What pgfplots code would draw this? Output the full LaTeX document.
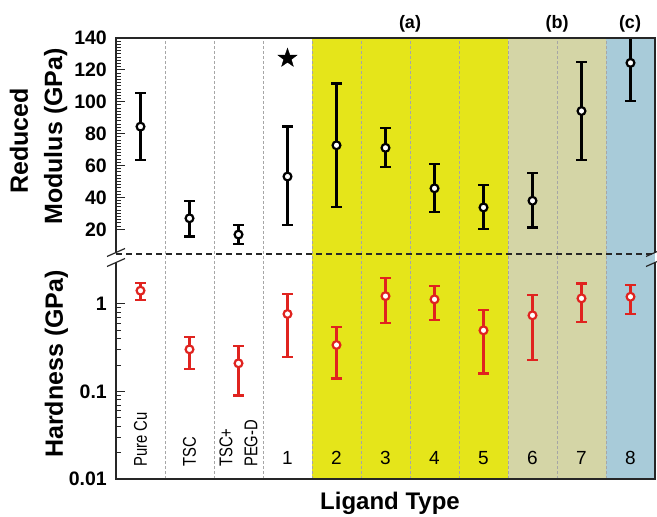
\documentclass[border=0pt]{standalone}
\usepackage{fontspec}
\setmainfont{Liberation Sans}
\newfontfamily\narrowsans[FakeStretch=0.8]{Liberation Sans}
\usepackage{pgfplots}
\usepackage{pgfplotstable}
\pgfplotsset{compat=1.18}

\definecolor{bandA}{HTML}{E5E51A}
\definecolor{bandB}{HTML}{D4D5A6}
\definecolor{bandC}{HTML}{A8CBD9}
\definecolor{hred}{HTML}{E0231F}
\definecolor{framegray}{HTML}{262626}

% filled five-pointed star
\pgfdeclareplotmark{fivestar}{%
  \pgfpathmoveto{\pgfpointpolar{90}{\pgfplotmarksize}}%
  \pgfpathlineto{\pgfpointpolar{126}{0.4\pgfplotmarksize}}%
  \pgfpathlineto{\pgfpointpolar{162}{\pgfplotmarksize}}%
  \pgfpathlineto{\pgfpointpolar{198}{0.4\pgfplotmarksize}}%
  \pgfpathlineto{\pgfpointpolar{234}{\pgfplotmarksize}}%
  \pgfpathlineto{\pgfpointpolar{270}{0.4\pgfplotmarksize}}%
  \pgfpathlineto{\pgfpointpolar{306}{\pgfplotmarksize}}%
  \pgfpathlineto{\pgfpointpolar{342}{0.4\pgfplotmarksize}}%
  \pgfpathlineto{\pgfpointpolar{18}{\pgfplotmarksize}}%
  \pgfpathlineto{\pgfpointpolar{54}{0.4\pgfplotmarksize}}%
  \pgfpathclose
  \pgfusepathqfillstroke
}

% reduced modulus (GPa): value, upper and lower error
\pgfplotstableread{
x y ep em
0 84.4 20.9 20.8
1 26.9 11.0 11.5
2 16.7 6.2 5.8
3 53.1 31.3 30.3
4 72.7 38.8 38.7
5 71.1 12.5 12.1
6 45.7 15.2 14.7
7 33.7 14.2 13.5
8 37.9 17.3 16.7
9 94.2 30.8 30.8
10 124.4 23.6 23.8
}\modtable

% hardness (GPa): value, upper and lower error
\pgfplotstableread{
x y ep em
0 1.42 0.33 0.31
1 0.303 0.120 0.122
2 0.21 0.124 0.120
3 0.769 0.541 0.519
4 0.34 0.201 0.199
5 1.23 0.77 0.618
6 1.13 0.48 0.474
7 0.5 0.347 0.34
8 0.742 0.528 0.511
9 1.16 0.55 0.537
10 1.21 0.45 0.435
}\hardtable

\pgfplotsset{
  panel/.style={
    scale only axis, width=539pt,
    xmin=-0.5, xmax=10.5, xtick=\empty,
    axis lines=left, axis line style={draw=none},
    tick align=inside, ytick pos=left,
    major tick length=9pt, minor tick length=5pt,
    tick style={line width=1pt, framegray},
    yticklabel style={font=\bfseries\fontsize{19.5}{20}\selectfont, inner sep=0pt, xshift=-9pt},
  },
}

\begin{document}
\begin{tikzpicture}
\path[use as bounding box] (0pt,0pt) rectangle (657pt,517pt);

% ---------- upper panel: reduced modulus ----------
\begin{axis}[panel, at={(116pt,263pt)}, anchor=south west, height=216pt,
  ymin=4.5, ymax=140, ytick={20,40,...,140}, minor y tick num=9,
  /pgf/number format/assume math mode=true]
  \fill[bandA] (axis cs:3.5,4.5) rectangle (axis cs:7.5,140);
  \fill[bandB] (axis cs:7.5,4.5) rectangle (axis cs:9.5,140);
  \fill[bandC] (axis cs:9.5,4.5) rectangle (axis cs:10.5,140);
  \pgfplotsinvokeforeach{0.5,1.5,2.5,3.5,4.5,5.5,6.5,7.5,8.5,9.5}{
    \draw[gray!70, line width=0.7pt, dash pattern=on 3pt off 2pt] (axis cs:#1,4.5) -- (axis cs:#1,140);
  }
  \addplot[only marks, black, line width=2.3pt,
    mark=*, mark size=3.9pt, mark options={draw=black, fill=white, line width=2.2pt},
    error bars/.cd, y dir=both, y explicit,
    error bar style={line width=2.3pt, black},
    error mark options={rotate=90, line width=2.3pt, mark size=5.3pt, black}]
    table[x=x, y=y, y error plus=ep, y error minus=em]{\modtable};
  \addplot[only marks, mark=fivestar, mark size=10pt, black] coordinates {(3,127.3)};
\end{axis}

% ---------- lower panel: hardness ----------
\begin{axis}[panel, at={(116pt,38pt)}, anchor=south west, height=225pt,
  ymode=log, ymin=0.01, ymax=3.727, ytick={0.01,0.1,1}, yticklabels={0.01,0.1,1}]
  \fill[bandA] (axis cs:3.5,0.01) rectangle (axis cs:7.5,3.727);
  \fill[bandB] (axis cs:7.5,0.01) rectangle (axis cs:9.5,3.727);
  \fill[bandC] (axis cs:9.5,0.01) rectangle (axis cs:10.5,3.727);
  \pgfplotsinvokeforeach{0.5,1.5,2.5,3.5,4.5,5.5,6.5,7.5,8.5,9.5}{
    \draw[gray!70, line width=0.7pt, dash pattern=on 3pt off 2pt] (axis cs:#1,0.01) -- (axis cs:#1,3.727);
  }
  \addplot[only marks, hred, line width=2.3pt,
    mark=*, mark size=3.9pt, mark options={draw=hred, fill=white, line width=2.2pt},
    error bars/.cd, y dir=both, y explicit,
    error bar style={line width=2.3pt, hred},
    error mark options={rotate=90, line width=2.3pt, mark size=5.3pt, hred}]
    table[x=x, y=y, y error plus=ep, y error minus=em]{\hardtable};
  % category names
  \begin{scope}[every node/.style={font=\narrowsans\fontsize{18.5}{25}\selectfont, inner sep=0pt}]
    \node[rotate=90, anchor=west] at (axis cs:0,0.0137) {Pure Cu};
    \node[rotate=90, anchor=west] at (axis cs:1,0.0137) {TSC};
    \node[rotate=90, anchor=west, align=left] at (axis cs:2,0.0137) {TSC+\\PEG-D};
  \end{scope}
  \begin{scope}[every node/.style={font=\fontsize{19}{20}\selectfont, inner sep=0pt, anchor=base}]
    \node at (axis cs:3,0.01484) {1};
    \node at (axis cs:4,0.01484) {2};
    \node at (axis cs:5,0.01484) {3};
    \node at (axis cs:6,0.01484) {4};
    \node at (axis cs:7,0.01484) {5};
    \node at (axis cs:8,0.01484) {6};
    \node at (axis cs:9,0.01484) {7};
    \node at (axis cs:10,0.01484) {8};
  \end{scope}
\end{axis}

% frame with axis breaks
\begin{scope}[line width=1.6pt, framegray]
  \draw (116pt,265pt) -- (116pt,479pt) -- (655pt,479pt) -- (655pt,265pt);
  \draw (116pt,254pt) -- (116pt,38pt) -- (655pt,38pt) -- (655pt,254pt);
  \draw[line width=1.2pt] (107pt,260.5pt) -- (125pt,268.5pt);
  \draw[line width=1.2pt] (107pt,250.5pt) -- (125pt,258.5pt);
  \draw[line width=1.2pt] (646pt,260.5pt) -- (664pt,268.5pt);
  \draw[line width=1.2pt] (646pt,250.5pt) -- (664pt,258.5pt);
\end{scope}
\draw[framegray, line width=1.1pt, dash pattern=on 6pt off 4pt] (116pt,263pt) -- (655pt,263pt);

% panel titles
\begin{scope}[every node/.style={font=\bfseries\fontsize{18}{20}\selectfont, anchor=base, inner sep=0pt}]
  \node at (410pt,488pt) {(a)};
  \node at (557pt,488pt) {(b)};
  \node at (630pt,488pt) {(c)};
\end{scope}

% axis titles
\begin{scope}[every node/.style={font=\bfseries\fontsize{25}{30}\selectfont, inner sep=0pt}]
  \node[rotate=90, anchor=base] at (28pt,376pt) {Reduced};
  \node[rotate=90, anchor=base] at (62pt,380.5pt) {Modulus (GPa)};
  \node[rotate=90, anchor=base] at (63pt,153pt) {Hardness (GPa)};
  \node[anchor=base, font=\bfseries\fontsize{24}{28}\selectfont] at (390pt,7pt) {Ligand Type};
\end{scope}
\end{tikzpicture}
\end{document}
